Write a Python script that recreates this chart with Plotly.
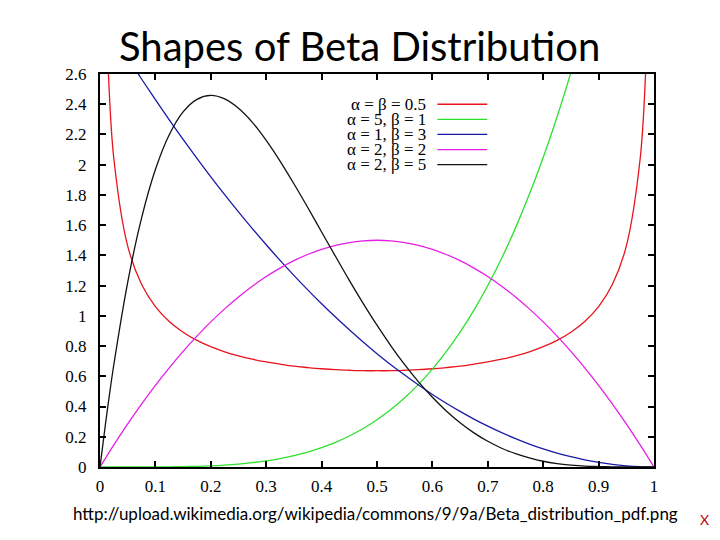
import plotly.graph_objects as go

# x positions the curves were read at
x_vals = [0, 0.01, 0.015, 0.025, 0.05, 0.075, 0.1, 0.125, 0.15, 0.175, 0.2, 0.225, 0.25,
          0.275, 0.3, 0.325, 0.35, 0.375, 0.4, 0.425, 0.45, 0.475, 0.5, 0.525, 0.55, 0.575,
          0.6, 0.625, 0.65, 0.675, 0.7, 0.725, 0.75, 0.775, 0.8, 0.825, 0.85, 0.875, 0.9,
          0.925, 0.95, 0.975, 0.985, 0.99, 1]

# values (curves above 2.6 run off the top)
y_half_half = [None, 3.199, 2.619, 2.039, 1.461, 1.209, 1.061, 0.963, 0.892, 0.838, 0.796,
               0.762, 0.735, 0.713, 0.695, 0.680, 0.667, 0.658, 0.650, 0.644, 0.640, 0.637,
               0.637, 0.637, 0.640, 0.644, 0.650, 0.658, 0.667, 0.680, 0.695, 0.713, 0.735,
               0.762, 0.796, 0.838, 0.892, 0.963, 1.061, 1.209, 1.461, 2.039, 2.619, 3.199,
               None]
y_5_1 = [0, 0, 0, 0, 0, 0.0002, 0.0005, 0.0012, 0.0025, 0.0047, 0.008, 0.0128, 0.0195,
         0.0286, 0.0405, 0.0558, 0.075, 0.0989, 0.128, 0.1631, 0.205, 0.2545, 0.3125,
         0.3798, 0.4575, 0.5466, 0.648, 0.763, 0.8925, 1.038, 1.2005, 1.381, 1.582, 1.804,
         2.048, 2.316, 2.61, 2.931, 3.2805, 3.66, 4.07, 4.518, 4.707, 4.80, 5]
y_1_3 = [3.0, 2.940, 2.911, 2.852, 2.708, 2.567, 2.43, 2.297, 2.168, 2.042, 1.92, 1.802,
         1.688, 1.577, 1.47, 1.367, 1.268, 1.172, 1.08, 0.992, 0.908, 0.827, 0.75, 0.677,
         0.608, 0.542, 0.48, 0.422, 0.368, 0.317, 0.27, 0.227, 0.188, 0.152, 0.12, 0.092,
         0.068, 0.047, 0.03, 0.017, 0.008, 0.002, 0.001, 0, 0]
y_2_2 = [0, 0.059, 0.089, 0.146, 0.285, 0.416, 0.54, 0.656, 0.765, 0.866, 0.96, 1.046,
         1.125, 1.196, 1.26, 1.316, 1.365, 1.406, 1.44, 1.466, 1.485, 1.496, 1.5, 1.496,
         1.485, 1.466, 1.44, 1.406, 1.365, 1.316, 1.26, 1.196, 1.125, 1.046, 0.96, 0.866,
         0.765, 0.656, 0.54, 0.416, 0.285, 0.146, 0.089, 0.059, 0]
y_2_5 = [0, 0.288, 0.424, 0.678, 1.222, 1.647, 1.968, 2.198, 2.349, 2.432, 2.458, 2.435,
         2.373, 2.280, 2.161, 2.024, 1.874, 1.717, 1.555, 1.394, 1.235, 1.083, 0.938, 0.802,
         0.677, 0.563, 0.461, 0.371, 0.293, 0.226, 0.170, 0.124, 0.088, 0.060, 0.038,
         0.023, 0.013, 0.006, 0.003, 0.001, 0, 0, 0, 0, 0]

names = ["α = β = 0.5", "α = 5, β = 1", "α = 1, β = 3", "α = 2, β = 2", "α = 2, β = 5"]
colors = ["#e8141c", "#2ee02e", "#1a1aa8", "#e61ee6", "#111111"]
series = [y_half_half, y_5_1, y_1_3, y_2_2, y_2_5]

y_ticks = [0, 0.2, 0.4, 0.6, 0.8, 1, 1.2, 1.4, 1.6, 1.8, 2, 2.2, 2.4, 2.6]
x_ticks = [0, 0.1, 0.2, 0.3, 0.4, 0.5, 0.6, 0.7, 0.8, 0.9, 1]

SERIF = "Liberation Serif, Times New Roman, serif"

fig = go.Figure()
for name, col, ys in zip(names, colors, series):
    fig.add_trace(go.Scatter(x=x_vals, y=ys, mode="lines", name=name,
                             line=dict(color=col, width=1.3, shape="spline", smoothing=1.0),
                             connectgaps=False))

# gnuplot-style key: text, then a short line sample
for i, (name, col) in enumerate(zip(names, colors)):
    ky = 2.4 - 0.1 * i
    fig.add_annotation(x=0.592, y=ky, text=name, showarrow=False, xanchor="right",
                       yanchor="middle",
                       font=dict(family=SERIF, size=17, color="black"))
    fig.add_shape(type="line", x0=0.609, x1=0.699, y0=ky, y1=ky,
                  line=dict(color=col, width=1.3))

axis_common = dict(showgrid=False, zeroline=False, showline=True, linecolor="black",
                   linewidth=2, mirror="ticks", ticks="inside", ticklen=6, tickwidth=1.5,
                   tickcolor="black")
fig.update_xaxes(range=[0, 1], tickvals=x_ticks, ticktext=[f"{v:g}" for v in x_ticks],
                 ticklabelstandoff=3, **axis_common)
fig.update_yaxes(range=[0, 2.6], tickvals=y_ticks, ticktext=[f"{v:g}" for v in y_ticks],
                 ticklabelstandoff=8, **axis_common)

# page texts (the page sits 8px in from the window corner)
fig.add_annotation(xref="paper", yref="paper", x=0.469, y=1.0, yshift=28,
                   xanchor="center", yanchor="middle",
                   text="Shapes of Beta Distribution", showarrow=False,
                   font=dict(family="Lato", size=40, color="black"))
fig.add_annotation(xref="paper", yref="paper", x=0.497, y=0, yshift=-46,
                   xanchor="center", yanchor="middle",
                   text="http://upload.wikimedia.org/wikipedia/commons/9/9a/Beta_distribution_pdf.png",
                   showarrow=False, font=dict(family="Lato", size=17, color="black"))
fig.add_annotation(xref="paper", yref="paper", x=1.092, y=0, yshift=-52,
                   xanchor="center", yanchor="middle",
                   text="X", showarrow=False, font=dict(family="Lato", size=14, color="#c00000"))

fig.update_layout(width=712, height=532, showlegend=False,
                  font=dict(family=SERIF, size=17, color="black"),
                  margin=dict(l=92, r=66, t=66, b=73),
                  paper_bgcolor="white", plot_bgcolor="white")

fig.write_html("out.html")
